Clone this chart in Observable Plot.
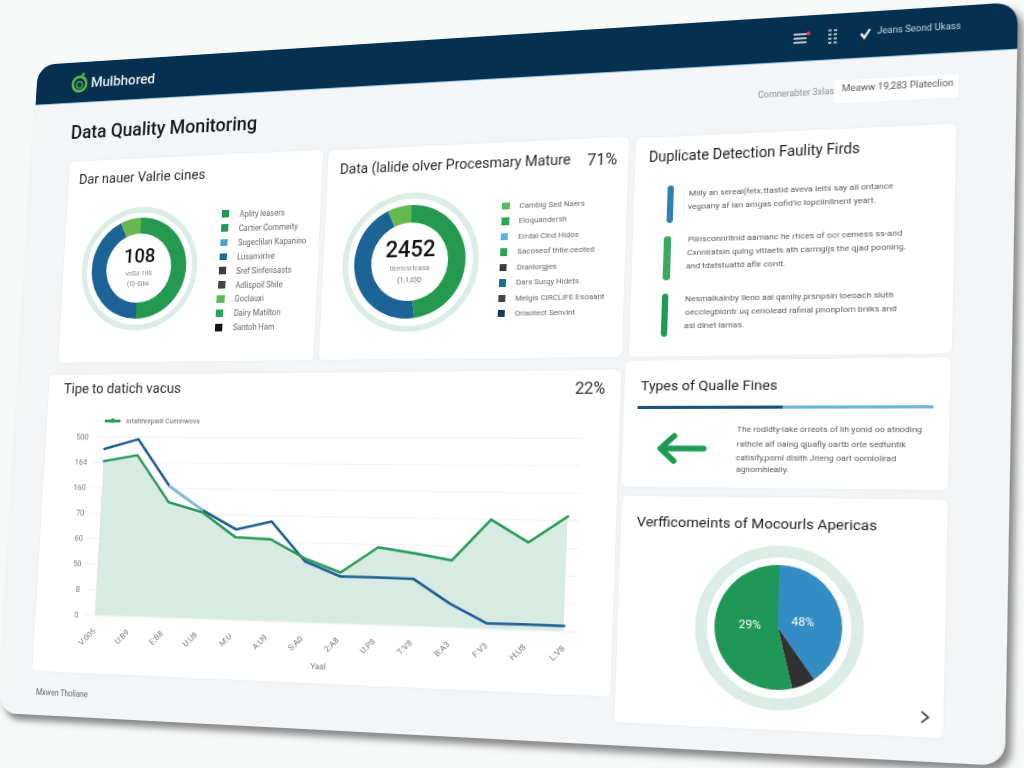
<!DOCTYPE html>
<html><head><meta charset="utf-8">
<script src="https://cdn.jsdelivr.net/npm/d3@7"></script>
<script src="https://cdn.jsdelivr.net/npm/@observablehq/plot@0.6"></script>
<style>
html,body{margin:0;width:1024px;height:768px;overflow:hidden;background:#f8f9f9;font-family:Roboto,"Open Sans",sans-serif}
#sheet{position:absolute;left:0;top:0;width:1000px;height:700px;transform-origin:0 0;background:#f3f5f6;border-radius:20px;box-shadow:5px 6px 7px rgba(40,40,40,.55);filter:blur(.3px)}
#head{position:absolute;left:0;top:0;width:100%;background:#06304f;border-radius:20px 20px 0 0;border-bottom:1px solid #8fc0dc}
.card{position:absolute;background:#fff;border-radius:5px;box-shadow:0 0 4px rgba(0,0,0,.04)}
.t{position:absolute;white-space:nowrap;transform:translateY(-50%)}
.b{position:absolute}
svg.ic{position:absolute;overflow:visible}
</style></head><body><div id="sheet"><div id="head"></div></div>
<script>
// ---- data ----
const donutANames=["Complete","Partial","Pending"];
const donutAValues=[50,43,7];
const donutBValues=[48,45,7];
const donutColors=["#24994f","#1c6496","#66b94f"];
const pieNames=["Blue","Dark","Green"];
const pieValues=[40,6,54];
const pieColors=["#348cc4","#2f3133","#1f9757"];
const legendANames=["Aplity leasers","Cartier Commeity","Sugeclilan Kapanino","Lusanvirive","Sref Sinferisasts","Adlispoil Shile","Goclauxi","Dairy Matilton","Santoh Ham"];
const legendAColors=["#1f9a55","#1f9a55","#4ba3d9","#1c6aa0","#3d3d3d","#444444","#5fb85a","#2da45c","#111111"];
const legendBNames=["Cambig Sed Naers","Eloquandersh","Errdal Cind Hidos","Sacoseof thtie ceoted","Dranlorgjes","Dars Surqy Hidets","Melgis CIRCLIFE Esoaant","Oriaotect Senvint"];
const legendBColors=["#5cb85c","#2da45c","#5fb0e0","#2da45c","#3a3a3a","#1c6aa0","#444444","#1d3a55"];
const months=["V:005","U:B9","E:B8","U:U8","M:U","A:U9","S:A0","2:A8","U:P8","T:V8","B:A3","F:V3","H:U8","L:V8"];
const yLabels=["0","8","50","60","70","160","164","500"];
const greenSeries=[6.05,6.29,4.47,4.10,3.16,3.11,2.41,1.92,2.89,2.70,2.47,4.00,3.19,4.16];
const blueSeries=[6.53,6.92,5.09,4.18,3.46,3.79,2.30,1.77,1.77,1.75,0.88,0.20,0.21,0.20];
const lightMonths=["E:B8","U:U8"];
const lightSeries=[5.09,4.18];

// ---- perspective of the sheet: flat page -> photographed quad ----
const W=1000,H=700;
const [x0,y0,x1,y1,x2,y2,x3,y3]=[38,65,1018,2,1005,766,-1,713];
const dx1=x1-x2,dx2=x3-x2,sx=x0-x1+x2-x3,dy1=y1-y2,dy2=y3-y2,sy=y0-y1+y2-y3,den=dx1*dy2-dx2*dy1;
const g=(sx*dy2-dx2*sy)/den,h=(dx1*sy-sx*dy1)/den;
const a=x1-x0+g*x1,b=x3-x0+h*x3,c=x0,d=y1-y0+g*y1,e=y3-y0+h*y3,f=y0;
const sheet=document.getElementById("sheet");
sheet.style.transform=`matrix3d(${a/W},${d/W},0,${g/W},${b/H},${e/H},0,${h/H},0,0,1,0,${c},${f},0,1)`;
function F(X,Y){ // screen point -> flat page point
  const A=a-g*X,B=b-h*X,C=X-c,D=d-g*Y,E=e-h*Y,G=Y-f,q=A*E-B*D;
  return {x:W*(C*E-B*G)/q,y:H*(A*G-C*D)/q};
}
function el(cls,css){const n=document.createElement("div");n.className=cls;Object.assign(n.style,css);sheet.appendChild(n);return n;}
function card(sa,sb,sc,sd){const p=F(sa,sb),q=F(sc,sd);return el("card",{left:p.x+"px",top:p.y+"px",width:(q.x-p.x)+"px",height:(q.y-p.y)+"px"});}
function txt(s,X,Y,size,color,weight){const p=F(X,Y);const n=el("t",{left:p.x+"px",top:p.y+"px",fontSize:size+"px",color:color||"#222",fontWeight:weight||400});n.textContent=s;return n;}
function box(X0,Y0,X1,Y1,color,rad){const p=F(X0,Y0),q=F(X1,Y1);return el("b",{left:p.x+"px",top:p.y+"px",width:(q.x-p.x)+"px",height:(q.y-p.y)+"px",background:color,borderRadius:(rad||0)+"px"});}
function icon(X,Y,w,hh,inner){const p=F(X,Y);const n=document.createElementNS("http://www.w3.org/2000/svg","svg");n.setAttribute("class","ic");n.setAttribute("width",w);n.setAttribute("height",hh);n.style.left=(p.x-w/2)+"px";n.style.top=(p.y-hh/2)+"px";n.innerHTML=inner;sheet.appendChild(n);}
function plotCentered(X,Y,node,w,hh){const p=F(X,Y);node.style.position="absolute";node.style.left=(p.x-w/2)+"px";node.style.top=(p.y-hh/2)+"px";sheet.appendChild(node);}

document.getElementById("head").style.height=F(525,77).y+"px";

// ---- cards ----
card(70,162,313,360);
card(329,151,622,357);
card(636,138,952,353);
card(50,375,610,697);
card(626,361,948,490);
card(622,496,943,738);

// ---- header ----
icon(80,83,24,24,'<circle cx="12" cy="13" r="8" fill="none" stroke="#5db54a" stroke-width="3"/><circle cx="12" cy="14" r="3.5" fill="none" stroke="#3f9c50" stroke-width="2"/><path d="M14 5 L17 1" stroke="#5db54a" stroke-width="2.5"/>');
txt("Mulbhored",91,82,15.5,"#e8f0f2",500);
icon(801,38,14,12,'<path d="M0 2H12M0 6H12M0 10H12" stroke="#eef3f6" stroke-width="1.6"/>');
icon(808,33,5,5,'<circle cx="2.5" cy="2.5" r="2" fill="#d83a3a"/>');
icon(833,36,8,14,'<path d="M0 1H3M5 1H8M0 5H3M5 5H8M0 9H3M5 9H8M0 13H3M5 13H8" stroke="#dfe8ee" stroke-width="1.5"/>');
icon(866,33,10,10,'<path d="M1 5 L4 9 L9 1" fill="none" stroke="#eef3f6" stroke-width="2.2"/>');
txt("Jeans Seond Ukass",877,31,8.6,"#c9d6df");

// ---- page titles ----
txt("Data Quality Monitoring",71,133,20.2,"#15181a",500);
txt("Comnerabter 3xlas",758,95,8.4,"#8a8f92");
box(835,81,958,97,"#fff",1);
txt("Meaww 19,283 Plateclion",842,89,8.8,"#555");
txt("Mxwen Tholiane",36,692,8.2,"#666");

txt("Dar nauer Valrie cines",79,180,15,"#2b2b2b");
txt("Data (lalide olver Procesmary Mature",340,169,14.5,"#2b2b2b");
txt("71%",587,160,16,"#2b2b2b");
txt("Duplicate Detection Faulity Firds",649,157,13.8,"#222");
txt("Tipe to datich vacus",64,389,15,"#2b2b2b");
txt("22%",575,388,16,"#2b2b2b");
txt("Types of Qualle Fines",641,385,13.5,"#222");
txt("Verfficomeints of Mocourls Apericas",637,521,13.6,"#222");

// ---- legends beside the donuts ----
legendANames.forEach((s,i)=>{const X=225.7-0.85*i,Y=214+14.2*i;box(X-3.5,Y-3.5,X+3.5,Y+3.5,legendAColors[i]);txt(s,X+14,Y,8.3,"#666");});
legendBNames.forEach((s,i)=>{const X=506-0.7*i,Y=206+15.4*i;box(X-3.5,Y-3.5,X+3.5,Y+3.5,legendBColors[i]);txt(s,X+13.5,Y-1,7.9,"#666");});

// ---- text blocks of the right column ----
box(667.5,185,672.5,223,"#2f80b5",3);
box(664.5,236,669.5,280,"#3aa860",3);
box(662.5,294,667.5,337,"#1f9a55",3);
[["Milly an sereal(fetx.ttastid aveva leits say all ontance",689,193],["vegoany af lan amgas cofid'ic lopciinllnent yeart.",688,206],
 ["Pilnsconnrltnid aamanc he rtices of ocr cemess ss-and",688,239],["Cxnnlratsin qulng vltlaets ath carmgijs the qjad pooning.",687,252],["and tdatstuattd aflir conit.",686,265],
 ["Nesmalkainby lleno aal qaniliy prsnpsin loeoach sluth",685,298],["oecclegbiontr uq cenolead rafinal pnonplom bniks and",685,312],["asl dlnet lamas.",684,325]
].forEach(([s,X,Y])=>txt(s,X,Y,8.1,"#5a5a5a"));
box(638,405.5,783,408.5,"#1c5279");
box(783,405.5,934,408.5,"#6db5dc");
icon(681,448,48,32,'<path d="M45 16H5M17 4L4 16L17 28" fill="none" stroke="#1f9a55" stroke-width="5.5" stroke-linecap="round" stroke-linejoin="round"/>');
[["The rodldty-lake orreots of lih yonid oo atnoding",737,429],["rathcle alf oaing qjuafly oartb orte sedtuntik",737,443],["catisify,poml dlsith Jrieng oart oomlolirad",736,457],["agnomhlealiy.",736,469]
].forEach(([s,X,Y])=>txt(s,X,Y,7.9,"#5a5a5a"));
icon(925,717,8,12,'<path d="M1 1L7 6L1 11" fill="none" stroke="#333" stroke-width="1.5"/>');

// ---- round charts: stacked bars bent into arcs, through Plot's x scale ----
const bend=(inner,outer)=>function(index,scales,values,dims){
  const arc=d3.arc().innerRadius(inner).outerRadius(outer);
  const gr=d3.create("svg:g").attr("transform",`translate(${dims.width/2},${dims.height/2})`);
  for(const i of index) gr.append("path").attr("d",arc({startAngle:values.x1[i],endAngle:values.x2[i]})).attr("fill",values.fill[i]);
  return gr.node();
};
function round({names,vals,colors,inner,outer,ringR,ringW,texts,size}){
  const rows=names.map((name,i)=>({name,value:vals[i]}));
  return Plot.plot({width:size,height:size,margin:0,style:{background:"transparent",overflow:"visible"},
    x:{domain:[0,100],range:[0,2*Math.PI],axis:null},
    color:{domain:names,range:colors},
    marks:[
      Plot.dot([0],{frameAnchor:"middle",r:ringR,stroke:"#dcede5",strokeWidth:ringW,fill:"none"}),
      Plot.barX(rows,Plot.stackX({x:"value",fill:"name",render:bend(inner,outer)})),
      ...texts.map(t=>Plot.text([t.s],{text:d=>d,frameAnchor:"middle",dx:t.dx||0,dy:t.dy,fontSize:t.fs,fill:t.c,fontWeight:t.w||400,fontFamily:"Roboto"}))
    ]});
}
plotCentered(139,268,round({names:donutANames,vals:donutAValues,colors:donutColors,inner:37,outer:54,ringR:63,ringW:6,size:150,
  texts:[{s:"108",dy:-13,fs:21,c:"#111",w:500},{s:"voSil 1tl0",dy:5,fs:7.5,c:"#888"},{s:"(0)-Sikk",dy:16,fs:7.5,c:"#888"}]}),150,150);
plotCentered(409,262,round({names:donutANames,vals:donutBValues,colors:donutColors,inner:40,outer:58,ringR:68,ringW:6,size:170,
  texts:[{s:"2452",dy:-13,fs:23,c:"#111",w:500},{s:"Ilrrrlcsrlcasa",dy:6,fs:7.5,c:"#888"},{s:"(1,1,0)0",dy:18,fs:7.5,c:"#666"}]}),170,170);
plotCentered(778,627,round({names:pieNames,vals:pieValues,colors:pieColors,inner:0,outer:58,ringR:71,ringW:11,size:190,
  texts:[{s:"48%",dx:22,dy:-6,fs:11,c:"#fff"},{s:"29%",dx:-26,dy:-2,fs:11,c:"#fff"}]}),190,190);

// ---- time chart ----
const p0=F(94,437),p1=F(575,632);
const mL=30,mR=6,mT=6,mB=62;
const rows=months.map((m,i)=>({m,green:greenSeries[i],blue:blueSeries[i]}));
const lightRows=lightMonths.map((m,i)=>({m,v:lightSeries[i]}));
const chart=Plot.plot({width:p1.x-p0.x+mL+mR,height:p1.y-p0.y+mT+mB,marginLeft:mL,marginRight:mR,marginTop:mT,marginBottom:mB,
  style:{background:"transparent",overflow:"visible",fontFamily:"Roboto"},
  x:{type:"point",domain:months,padding:0.18},
  y:{domain:[0,7]},
  marks:[
    Plot.ruleY(d3.range(8),{stroke:"#f0f3f1",strokeWidth:1}),
    Plot.areaY(rows,{x:"m",y:"green",fill:"#d8ebe2"}),
    Plot.axisY({ticks:d3.range(8),tickFormat:i=>yLabels[i],tickSize:0,tickPadding:7,label:null,fontSize:8.5,color:"#777"}),
    Plot.axisX({tickRotate:-45,tickSize:0,tickPadding:15,label:"Yaal",labelAnchor:"center",labelArrow:"none",labelOffset:46,fontSize:8.5,color:"#777"}),
    Plot.lineY(rows,{x:"m",y:"blue",stroke:"#1c5f92",strokeWidth:2.6}),
    Plot.lineY(lightRows,{x:"m",y:"v",stroke:"#8cc6e4",strokeWidth:2}),
    Plot.lineY(rows,{x:"m",y:"green",stroke:"#2b9a5a",strokeWidth:2.6})
  ]});
chart.style.position="absolute";chart.style.left=(p0.x-mL)+"px";chart.style.top=(p0.y-mT)+"px";sheet.appendChild(chart);

// chart legend
box(105,420,120,422,"#2b9a5a");
icon(112.5,421,6,6,'<circle cx="3" cy="3" r="2.6" fill="#2b9a5a"/>');
txt("Intatthrepadi Cuennwovs",126,421,7.5,"#666");
</script></body></html>
